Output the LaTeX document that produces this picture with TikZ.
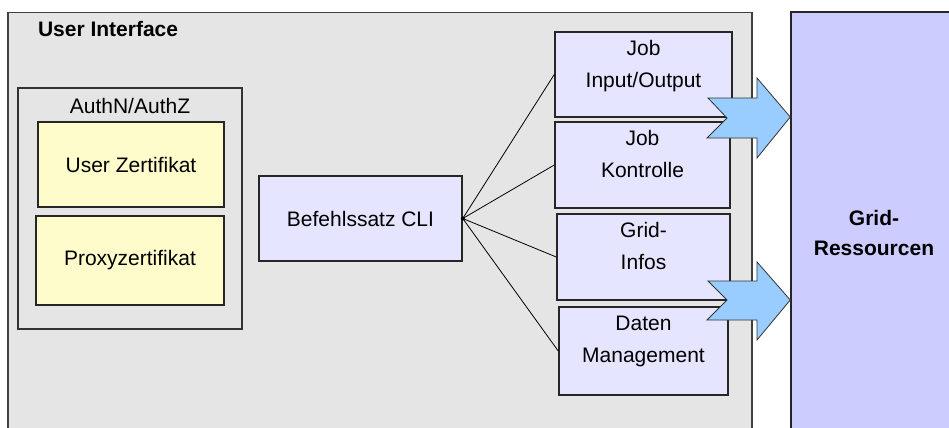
\documentclass[tikz,border=0pt]{standalone}
\usepackage{fontspec}
\setmainfont{Liberation Sans}
\begin{document}
\begin{tikzpicture}[
    x=0.5pt, y=-0.5pt, % one unit per pixel, y pointing down
    font=\fontsize{10.5}{13}\selectfont,
    uibox/.style = {draw=black!75, fill=gray!20, line width=0.75pt},
    authbox/.style = {draw=black!80, fill=gray!20, line width=0.75pt},
    certbox/.style = {draw=black!85, fill=yellow!20, line width=0.75pt},
    cmdbox/.style = {draw=black!85, fill=blue!10, line width=0.75pt, align=center},
    toptext/.style = {anchor=north, align=center, inner sep=4.5pt},
    gridbox/.style = {draw=black!85, fill=blue!20, line width=0.75pt, align=center},
    bigarrow/.style = {draw=black!80, line width=0.4pt}
    ]
    \tikzstyle{fan_line} = [draw=black, line width=0.4pt]
    \definecolor{arrowblue}{HTML}{99CCFF}
    \useasboundingbox (0,0) rectangle (949,428);
    \clip (0,0) rectangle (949,428);

    % user interface frame
    \node (UI) [uibox, minimum width=372pt, minimum height=213.5pt] at (380,226) {};
    \node [anchor=west, font=\fontsize{10.5}{13}\selectfont\bfseries] (uiTitle) at (31,29) {User Interface};

    % authentication block
    \node (Auth) [authbox, minimum width=112pt, minimum height=120.5pt] at (130,208.5) {};
    \node (authTitle) at (130,106) {AuthN/AuthZ};
    \node (userCert) [certbox, minimum width=93pt, minimum height=42.5pt] at (131,164.5) {User Zertifikat};
    \node (proxyCert) [certbox, minimum width=94pt, minimum height=44.5pt] at (130,260.5) {Proxyzertifikat};

    % command set and its parts
    \node (cli) [cmdbox, minimum width=101.5pt, minimum height=42.5pt] at (360.5,218.5) {Befehlssatz CLI};
    \node (jobIO) [cmdbox, minimum width=88.5pt, minimum height=42.5pt] at (643.5,74.5) {};
    \node (jobCtl) [cmdbox, minimum width=87.5pt, minimum height=43pt] at (642.5,165) {};
    \node (gridInfo) [cmdbox, minimum width=86.5pt, minimum height=43pt] at (643.5,257) {};
    \node (dataMgmt) [cmdbox, minimum width=84.5pt, minimum height=44pt] at (643.5,351) {};
    \node (jobIOText) [toptext] at (jobIO.north) {Job\\[3pt]Input/Output};
    \node (jobCtlText) [toptext] at (jobCtl.north) {Job\\[3pt]Kontrolle};
    \node (gridInfoText) [toptext] at (gridInfo.north) {Grid-\\[3pt]Infos};
    \node (dataMgmtText) [toptext] at (dataMgmt.north) {Daten\\[3pt]Management};

    \draw[fan_line] (cli.east) -- (jobIO.west);
    \draw[fan_line] (cli.east) -- (jobCtl.west);
    \draw[fan_line] (cli.east) -- (gridInfo.west);
    \draw[fan_line] (cli.east) -- (dataMgmt.west);
    \fill (cli.east) circle (1pt);

    % grid resources
    \node (res) [gridbox, minimum width=83pt, minimum height=221pt, font=\fontsize{10.5}{13}\selectfont\bfseries] at (874,233) {Grid-\\[2pt]Ressourcen};

    % block arrows into the resources
    \draw[bigarrow, fill=arrowblue] (708,98) -- (757,98) -- (757,78) -- (res.west |- 0,117)
        -- (757,158) -- (757,138) -- (707,138) -- (727,118) -- cycle;
    \draw[bigarrow, fill=arrowblue] (708,281) -- (757,281) -- (757,262) -- (res.west |- 0,300)
        -- (757,340) -- (757,320) -- (707,320) -- (727,300) -- cycle;
\end{tikzpicture}
\end{document}
